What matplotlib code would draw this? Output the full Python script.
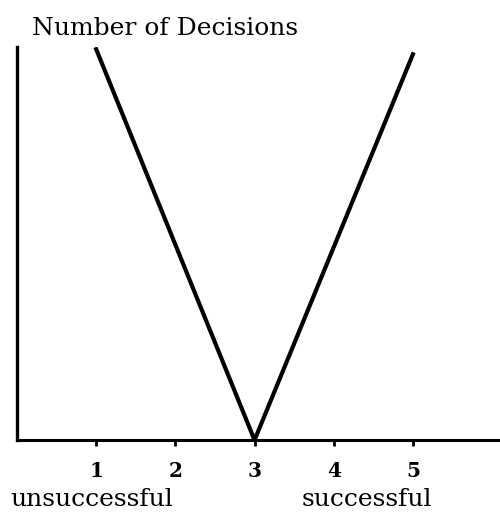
import matplotlib.pyplot as plt

# outcome scale (1 = unsuccessful ... 5 = successful)
outcome = [1, 3, 5]
decisions = [10, 0, 9.87]
tick_pos = [1, 2, 3, 4, 5]
tick_labels = ['1', '2', '3', '4', '5']

plt.rcParams['font.family'] = ['DejaVu Serif']

fig = plt.figure(figsize=(5, 5.19), dpi=100)
ax = fig.add_axes([0.034, 0.152, 0.966, 0.757])

ax.plot(outcome, decisions, color='black', lw=3, solid_joinstyle='miter')

ax.set_xlim(0, 6.1)
ax.set_ylim(0, 10.05)
ax.spines['top'].set_visible(False)
ax.spines['right'].set_visible(False)
ax.spines['left'].set_linewidth(2.4)
ax.spines['bottom'].set_linewidth(2.2)

ax.set_xticks(tick_pos)
ax.set_xticklabels(tick_labels, fontsize=14.5, fontweight='bold')
ax.tick_params(axis='x', length=4, width=2, pad=11)
ax.set_yticks([])

fig.text(0.064, 0.945, 'Number of Decisions', fontsize=18, ha='left', va='center')
fig.text(0.02, 0.016, 'unsuccessful', fontsize=18, ha='left', va='bottom')
fig.text(0.604, 0.016, 'successful', fontsize=18, ha='left', va='bottom')

fig.savefig('out.png', dpi=100)
